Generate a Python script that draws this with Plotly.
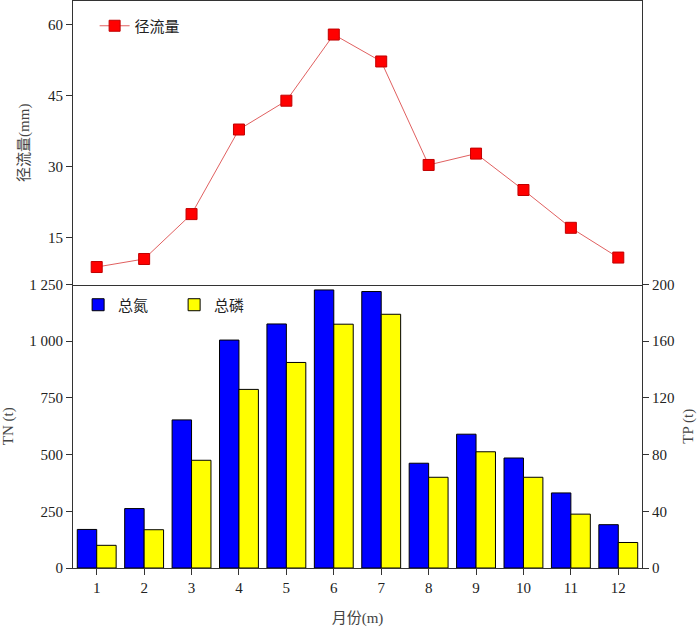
import plotly.graph_objects as go

months = list(range(1, 13))
runoff = [8.7, 10.4, 19.9, 37.8, 43.9, 57.9, 52.2, 30.3, 32.7, 25.0, 17.0, 10.7]
tn = [170, 262, 653, 1005, 1076, 1226, 1219, 462, 590, 485, 331, 191]
tp = [16, 27, 76, 126, 145, 172, 179, 64, 82, 64, 38, 18]

tn_ticks = [0, 250, 500, 750, 1000, 1250]
tn_text = ["0", "250", "500", "750", "1 000", "1 250"]

FONT = "Liberation Serif, Noto Sans CJK SC, serif"
W = 0.41

fig = go.Figure()

fig.add_trace(go.Scatter(
    x=months, y=runoff, name="径流量", mode="lines+markers",
    xaxis="x2", yaxis="y2", legend="legend",
    line=dict(color="#e06060", width=1),
    marker=dict(symbol="square", size=11, color="#ff0000",
                line=dict(color="#c00000", width=1)),
))
fig.add_trace(go.Bar(
    x=months, y=tn, name="总氮", xaxis="x", yaxis="y", legend="legend2",
    offset=-W, width=W,
    marker=dict(color="#0000ff", line=dict(color="black", width=1)),
))
fig.add_trace(go.Bar(
    x=months, y=tp, name="总磷", xaxis="x", yaxis="y3", legend="legend2",
    offset=0, width=W,
    marker=dict(color="#ffff00", line=dict(color="black", width=1)),
))

axis_common = dict(showgrid=False, zeroline=False, showline=True, automargin=False,
                   linecolor="#333", linewidth=1, tickcolor="#333",
                   tickfont=dict(size=15, color="#222"))
title_font = dict(size=15, color="#444")

fig.update_layout(
    width=700, height=627,
    margin=dict(l=73, r=58, t=1, b=59),
    plot_bgcolor="white", paper_bgcolor="white",
    font=dict(family=FONT, size=15, color="#222"),
    showlegend=True,
    xaxis=dict(domain=[0, 1], anchor="y", range=[0.5, 12.5],
               tickvals=months, ticks="outside", ticklen=6,
               title=dict(text="月份(m)", font=title_font, standoff=17),
               **axis_common),
    xaxis2=dict(domain=[0, 1], anchor="y2", matches="x", range=[0.5, 12.5],
                showticklabels=False, ticks="", mirror=True,
                **axis_common),
    yaxis=dict(domain=[0, 0.5], range=[0, 1250], tickvals=tn_ticks, ticktext=tn_text,
               ticks="outside", ticklen=6,
               title=dict(text="TN (t)", font=title_font, standoff=14),
               **axis_common),
    yaxis3=dict(overlaying="y", side="right", anchor="x", range=[0, 200],
                tickvals=[0, 40, 80, 120, 160, 200], ticks="outside", ticklen=6,
                title=dict(text="TP (t)", font=title_font, standoff=8),
                **axis_common),
    yaxis2=dict(domain=[0.5, 1], anchor="x2", range=[5, 65],
                tickvals=[15, 30, 45, 60], ticks="outside", ticklen=6, mirror=True,
                title=dict(text="径流量(mm)", font=title_font, standoff=14),
                **axis_common),
    legend=dict(x=0.038, y=0.985, xanchor="left", yanchor="top",
                bgcolor="rgba(0,0,0,0)", font=dict(size=15)),
    legend2=dict(x=0.009, y=0.493, xanchor="left", yanchor="top",
                 orientation="h", bgcolor="rgba(0,0,0,0)", font=dict(size=15),
                 entrywidth=51, entrywidthmode="pixels"),
)

fig.write_html("out.html", config={"displayModeBar": False},
               post_script="document.body.style.margin = '0px';")
